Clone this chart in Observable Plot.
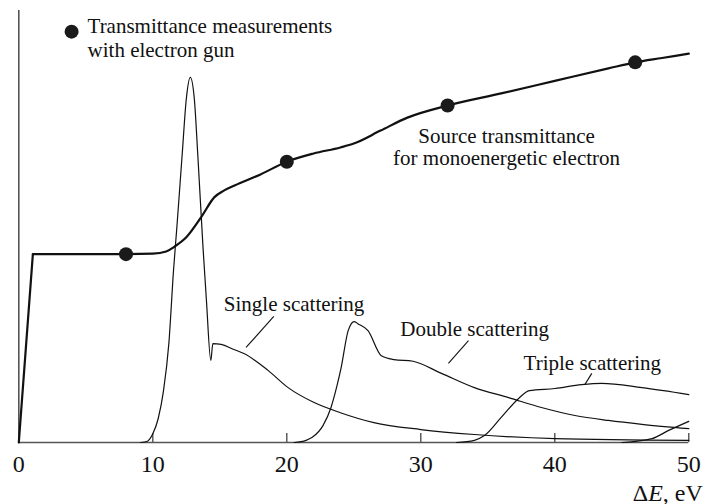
<!DOCTYPE html>
<html>
<head>
<meta charset="utf-8">
<script src="https://cdn.jsdelivr.net/npm/d3@7"></script>
<script src="https://cdn.jsdelivr.net/npm/@observablehq/plot@0.6"></script>
<style>
  html, body { margin: 0; padding: 0; background: #fff; }
  #chart svg, #chart svg text, #chart svg tspan { font-family: "Liberation Serif", "Times New Roman", serif !important; }
</style>
</head>
<body>
<div id="chart"></div>
<script>
// Source transmittance for monoenergetic electron (x = ΔE, eV; y = arbitrary units 0..100)
const transRiseX = [0, 1.05];
const transRiseY = [0, 43.6];
const transX = [1.05, 8, 10, 11, 11.6, 12.5, 13.6, 14.6, 15.3, 16.1, 18, 20, 22, 24, 25, 27, 29, 32, 36, 40, 44, 46, 48, 50];
const transY = [43.6, 43.6, 43.7, 44.2, 45.3, 47.5, 52.1, 56.8, 58.3, 59.5, 62.0, 65.0, 66.9, 68.3, 69.2, 72.2, 75.2, 78.0, 80.8, 83.7, 86.6, 88.0, 89.0, 90.0];

// Transmittance measurements with electron gun
const measX = [8, 20, 32, 46];
const measY = [43.6, 65.0, 78.0, 88.0];

// Single scattering (includes elastic peak)
const singleX = [9.1, 9.6, 10.0, 10.4, 10.8, 11.2, 11.55, 11.8, 12.2, 12.5, 12.8, 13.1, 13.35, 13.75, 14.0, 14.33, 14.48, 15.1, 16.0, 16.8, 18.6, 20.1, 22.0, 24.0, 26.5, 30.0, 34.0, 40.0, 50.0];
const singleY = [0, 0.3, 2.0, 5.5, 12.0, 23.0, 40.0, 50.0, 67.0, 79.5, 84.5, 79.5, 67.0, 45.0, 33.0, 19.0, 22.9, 22.7, 21.6, 20.6, 16.7, 12.7, 9.3, 6.9, 4.6, 3.0, 1.85, 0.9, 0.5];

// Double scattering
const doubleX = [20.55, 21.44, 21.9, 22.7, 23.3, 23.75, 24.06, 24.58, 25.03, 25.3, 26.06, 27.05, 28.0, 29.42, 31.54, 34.0, 36.55, 39.0, 41.5, 44.0, 46.5, 50.0];
const doubleY = [0, 0.5, 1.2, 3.9, 8.1, 13.2, 17.4, 25.9, 28.0, 27.5, 25.9, 20.1, 19.2, 18.8, 16.0, 12.7, 10.4, 8.1, 6.25, 5.1, 4.2, 3.2];

// Triple scattering
const tripleX = [32.66, 34.0, 34.75, 36.0, 37.3, 38.1, 40.0, 42.0, 43.5, 46.5, 50.0];
const tripleY = [0, 0.5, 1.6, 5.8, 10.2, 12.0, 12.5, 13.4, 13.7, 12.7, 11.1];

// Quadruple scattering (unlabelled)
const quadX = [45.0, 47.25, 48.5, 50.0];
const quadY = [0, 0.9, 2.8, 4.9];

// Axis ticks
const xTicks = [0, 10, 20, 30, 40, 50];

// Labels
const labels = [
  {text: "Single scattering", x: 15.3, y: 32.1},
  {text: "Double scattering", x: 28.47, y: 26.1},
  {text: "Triple scattering", x: 37.67, y: 18.4}
];
const leaders = [
  {x1: 19.03, y1: 29.2, x2: 16.96, y2: 22.0},
  {x1: 33.56, y1: 23.6, x2: 32.06, y2: 18.3},
  {x1: 42.76, y1: 16.0, x2: 42.24, y2: 13.4}
];

const zip = (xs, ys) => xs.map((x, i) => ({x, y: ys[i]}));
const transRise = zip(transRiseX, transRiseY);
const trans = zip(transX, transY);
const meas = zip(measX, measY);
const scatter = [zip(singleX, singleY), zip(doubleX, doubleY), zip(tripleX, tripleY), zip(quadX, quadY)];

const font = "Liberation Serif";

const chart = Plot.plot({
  width: 707,
  height: 504,
  marginLeft: 18.3,
  marginRight: 18.7,
  marginTop: 10,
  marginBottom: 62,
  style: {fontFamily: font, background: "#fff", color: "#111"},
  x: {domain: [0, 50], ticks: xTicks},
  y: {domain: [0, 100], axis: null},
  marks: [
    Plot.axisX({ticks: xTicks, tickSize: 0, tickPadding: 12, fontSize: 24, fontFamily: font, tickFormat: d => String(d)}),
    Plot.ruleX(xTicks.slice(1), {x: d => d, y1: 0, y2: 2.1, stroke: "#444", strokeWidth: 1.3}),
    Plot.ruleY([0], {stroke: "#555", strokeWidth: 1.6}),
    Plot.ruleX([0], {y1: 0, y2: 100, stroke: "#555", strokeWidth: 1.6}),
    ...scatter.map(s => Plot.line(s, {x: "x", y: "y", curve: "monotone-x", stroke: "#111", strokeWidth: 1.2})),
    Plot.line(transRise, {x: "x", y: "y", stroke: "#111", strokeWidth: 2.2}),
    Plot.line(trans, {x: "x", y: "y", curve: "monotone-x", stroke: "#111", strokeWidth: 2.2}),
    Plot.dot(meas, {x: "x", y: "y", r: 7, fill: "#1a1a1a", stroke: "none"}),
    Plot.link(leaders, {x1: "x1", y1: "y1", x2: "x2", y2: "y2", stroke: "#111", strokeWidth: 1.1}),
    Plot.text(labels, {x: "x", y: "y", text: "text", textAnchor: "start", lineAnchor: "middle", fontSize: 21, fontFamily: font, fill: "#111"}),
    Plot.text(["Source transmittance\nfor monoenergetic electron"], {x: 36.4, y: 68.4, textAnchor: "middle", lineAnchor: "middle", lineHeight: 1.05, fontSize: 21, fontFamily: font, fill: "#111"}),
    Plot.dot([{x: 3.94, y: 95.1}], {x: "x", y: "y", r: 7, fill: "#1a1a1a", stroke: "none"}),
    Plot.text(["Transmittance measurements\nwith electron gun"], {x: 5.13, y: 93.8, textAnchor: "start", lineAnchor: "middle", lineHeight: 1.14, fontSize: 21, fontFamily: font, fill: "#111"}),
    Plot.text(["ΔE, eV"], {frameAnchor: "bottom-right", dx: 14, dy: 58, textAnchor: "end", lineAnchor: "bottom", fontSize: 24, fontFamily: font, fill: "#111"})
  ]
});

document.getElementById("chart").appendChild(chart);

// italicize E in the axis label
d3.select(chart).selectAll("text").each(function() {
  const t = d3.select(this);
  if (t.text() === "ΔE, eV") {
    const target = t.select("tspan").empty() ? t : t.select("tspan");
    target.text(null);
    target.append("tspan").text("Δ");
    target.append("tspan").attr("font-style", "italic").text("E");
    target.append("tspan").text(", eV");
  }
});
</script>
</body>
</html>
